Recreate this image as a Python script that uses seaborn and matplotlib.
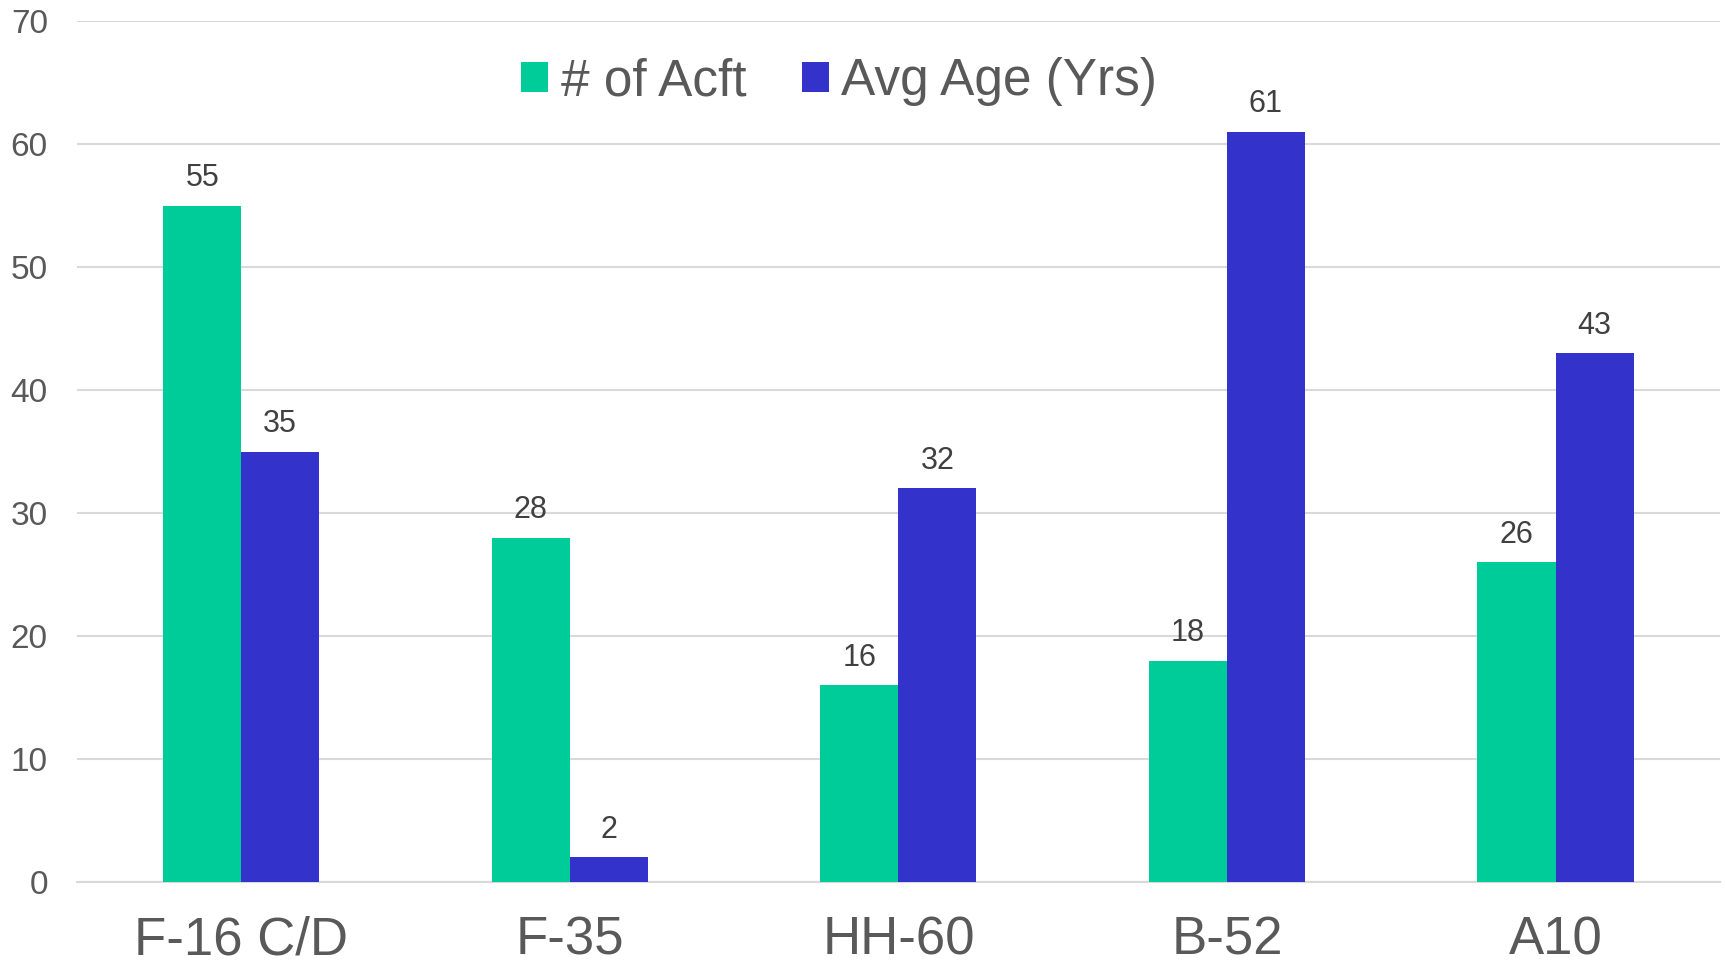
import matplotlib
matplotlib.use("Agg")
import matplotlib.pyplot as plt
import seaborn as sns
import pandas as pd
from matplotlib.patches import Patch

aircraft = ["F-16 C/D", "F-35", "HH-60", "B-52", "A10"]
num_acft = [55, 28, 16, 18, 26]
avg_age = [35, 2, 32, 61, 43]
series_names = ["# of Acft", "Avg Age (Yrs)"]
colors = ["#00CC99", "#3333CC"]
yticks = [0, 10, 20, 30, 40, 50, 60, 70]

df = pd.DataFrame({
    "Aircraft": aircraft * 2,
    "Series": [series_names[0]] * len(aircraft) + [series_names[1]] * len(aircraft),
    "Value": num_acft + avg_age,
})

sns.set_theme(style="white")
plt.rcParams["font.family"] = ["Liberation Sans", "DejaVu Sans"]

fig = plt.figure(figsize=(17.25, 9.67), dpi=100)
ax = fig.add_axes([0.0446, 0.088, 0.9524, 0.890])

sns.barplot(data=df, x="Aircraft", y="Value", hue="Series", order=aircraft,
            hue_order=series_names, palette=colors, width=0.475, gap=0,
            saturation=1, ax=ax, legend=False, errorbar=None, zorder=3,
            linewidth=0)

for c in ax.containers:
    ax.bar_label(c, labels=[f"{v:.0f}" for v in c.datavalues], padding=9,
                 fontsize=22, color="#404040")

ax.set_ylim(0, 70)
ax.set_xlim(-0.5, len(aircraft) - 0.5)
ax.set_yticks(yticks)
ax.yaxis.grid(True, color="#D9D9D9", linewidth=1.5, zorder=0)
ax.set_axisbelow(True)
for s in ["top", "left", "right"]:
    ax.spines[s].set_visible(False)
ax.spines["bottom"].set_color("#D9D9D9")
ax.spines["bottom"].set_linewidth(1.5)
ax.set_xlabel("")
ax.set_ylabel("")
ax.tick_params(axis="y", length=0, pad=21, labelsize=24, labelcolor="#595959")
ax.tick_params(axis="x", length=0, pad=24, labelsize=38, labelcolor="#595959")

handles = [Patch(facecolor=c, edgecolor="none") for c in colors]
ax.legend(handles, series_names, loc="upper center", bbox_to_anchor=(0.464, 1.012),
          ncol=2, frameon=False, fontsize=37, labelcolor="#595959",
          handlelength=0.52, handleheight=0.52, handletextpad=0.25, columnspacing=1.08)

fig.savefig("out.png", dpi=100, facecolor="white")
